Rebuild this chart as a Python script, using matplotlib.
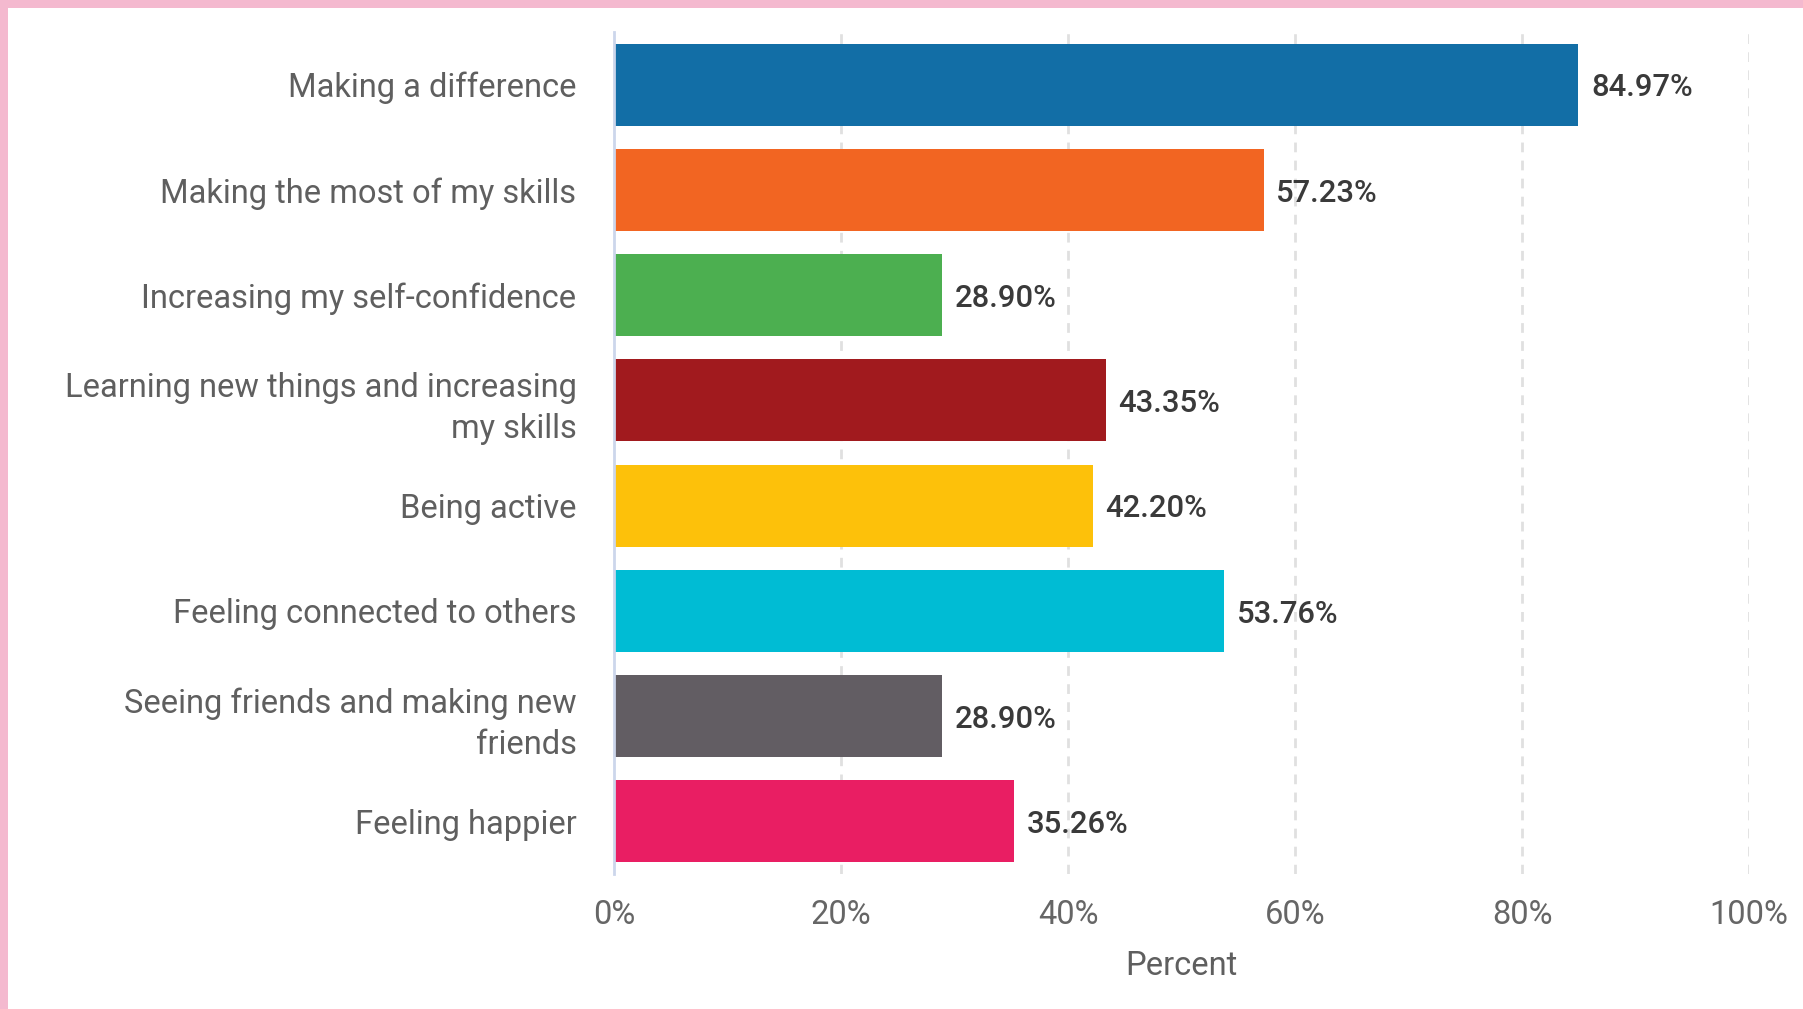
import matplotlib
matplotlib.use('Agg')
import matplotlib.pyplot as plt
import matplotlib.patches as patches

categories = [
    "Making a difference",
    "Making the most of my skills",
    "Increasing my self-confidence",
    "Learning new things and increasing\nmy skills",
    "Being active",
    "Feeling connected to others",
    "Seeing friends and making new\nfriends",
    "Feeling happier",
]
values = [84.97, 57.23, 28.90, 43.35, 42.20, 53.76, 28.90, 35.26]
bar_colors = ["#126ea6", "#f26522", "#4caf50", "#a11a1e",
              "#fdc10a", "#00bcd4", "#625d63", "#e91e63"]
x_ticks = [0, 20, 40, 60, 80, 100]
x_tick_labels = ["0%", "20%", "40%", "60%", "80%", "100%"]

plt.rcParams['font.family'] = ['Roboto', 'DejaVu Sans']

fig = plt.figure(figsize=(18.03, 10.09), dpi=100)
fig.patch.set_facecolor('white')

# pink frame on top and left
fig.patches.append(patches.Rectangle((0, 1 - 8 / 1009), 1, 8 / 1009, transform=fig.transFigure,
                                     facecolor='#f4b9cf', edgecolor='none', zorder=0))
fig.patches.append(patches.Rectangle((0, 0), 8 / 1803, 1, transform=fig.transFigure,
                                     facecolor='#f4b9cf', edgecolor='none', zorder=0))

ax = fig.add_axes([614 / 1803, 1 - 874 / 1009, (1749 - 614) / 1803, (874 - 32) / 1009])

y = list(range(len(categories)))
ax.barh(y, values, height=0.78, color=bar_colors, zorder=3)

for yi, v in zip(y, values):
    ax.text(v + 1.1, yi + 0.03, f"{v:.2f}%", va='center', ha='left', fontsize=22.3,
            fontweight='medium', color='#3a3a3a', zorder=4)

ax.set_xlim(0, 100)
ax.set_ylim(len(categories) - 0.5, -0.5)
ax.set_yticks(y)
ax.set_yticklabels(categories, fontsize=23.5, color='#5f5f5f', linespacing=1.35)
ax.set_xticks(x_ticks)
ax.set_xticklabels(x_tick_labels, fontsize=23.5, color='#666666')
ax.tick_params(axis='y', length=0, pad=27)
ax.tick_params(axis='x', length=0, pad=18)

ax.set_xlabel("Percent", fontsize=23.5, color='#5f5f5f', labelpad=14)

for s in ['top', 'right', 'bottom']:
    ax.spines[s].set_visible(False)
ax.spines['left'].set_color('#ccd6eb')
ax.spines['left'].set_linewidth(2)
ax.spines['left'].set_zorder(5)

for t in x_ticks[1:]:
    ax.axvline(t, color='#e0e0e0', linewidth=2, linestyle=(0, (3.5, 3)), zorder=1)

plt.savefig("out.png", dpi=100, facecolor='white')
plt.close(fig)
